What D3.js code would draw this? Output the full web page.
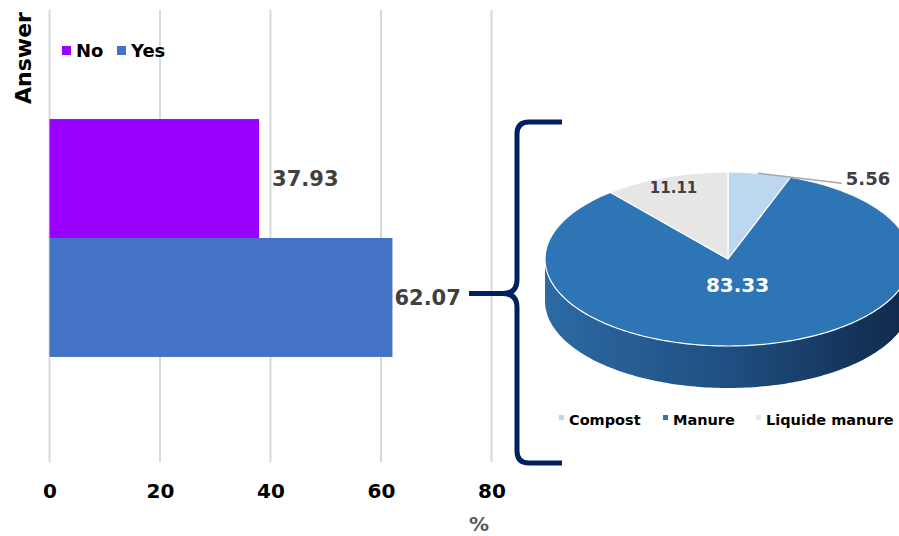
<!DOCTYPE html>
<meta charset="utf-8">
<title>Answer / fertiliser type</title>
<script src="https://d3js.org/d3.v7.min.js"></script>
<style>
  body { margin: 0; background: #fff; }
  text { font-family: "DejaVu Sans", Verdana, sans-serif; font-weight: bold; }
</style>
<body>
<div id="my_dataviz"></div>
<script>

// bar data
var answers = ["No", "Yes"];
var answerValues = [37.93, 62.07];
var answerColors = ["#9900ff", "#4472c4"];
var xTicks = [0, 20, 40, 60, 80];

// pie data (only the "Yes" answers)
var types = ["Compost", "Manure", "Liquide manure"];
var typeValues = [5.56, 83.33, 11.11];
var typeColors = ["#bdd7ee", "#2e75b6", "#e7e6e6"];

var W = 899, H = 536;

var svg = d3.select("#my_dataviz")
  .append("svg")
    .attr("width", W)
    .attr("height", H);

// defs: gradient for the side of the pie
var defs = svg.append("defs");
var grad = defs.append("linearGradient")
    .attr("id", "sideGrad")
    .attr("x1", "0%").attr("x2", "100%").attr("y1", "0%").attr("y2", "0%");
grad.append("stop").attr("offset", "0%").attr("stop-color", "#2d6aa4");
grad.append("stop").attr("offset", "50%").attr("stop-color", "#1f4f80");
grad.append("stop").attr("offset", "100%").attr("stop-color", "#10284a");

////////////////// bar chart

var plot = {left: 49.5, right: 491.5, top: 10, bottom: 462};

var x = d3.scaleLinear()
  .domain([0, 80])
  .range([plot.left, plot.right]);

// one category, two series -> 90% gap width
var groupH = (plot.bottom - plot.top) / 1.9;
var mid = (plot.top + plot.bottom) / 2 + 2;
var y = d3.scaleBand()
  .domain(answers)
  .range([mid - groupH / 2, mid + groupH / 2])
  .padding(0);

// grid lines
svg.append("g")
  .selectAll("line")
  .data(xTicks)
  .join("line")
    .attr("x1", d => x(d)).attr("x2", d => x(d))
    .attr("y1", plot.top).attr("y2", plot.bottom)
    .attr("stroke", "#d9d9d9")
    .attr("stroke-width", 2);

// x axis, drawn with d3.axisBottom then stripped to the labels
var xAxis = svg.append("g")
  .attr("transform", "translate(0," + (plot.bottom + 16) + ")")
  .call(d3.axisBottom(x).tickValues(xTicks).tickSize(0).tickPadding(6));
xAxis.select(".domain").remove();
xAxis.selectAll("text")
  .style("font-family", "DejaVu Sans, sans-serif")
  .style("font-weight", "bold")
  .style("font-size", "20px")
  .attr("fill", "#000");

svg.append("text")
  .attr("x", 479).attr("y", 531)
  .attr("text-anchor", "middle")
  .attr("fill", "#595959")
  .style("font-size", "20px")
  .text("%");

svg.append("text")
  .attr("transform", "translate(31,58) rotate(-90)")
  .attr("text-anchor", "middle")
  .attr("fill", "#000")
  .style("font-size", "22px")
  .text("Answer");

// bars
svg.append("g")
  .selectAll("rect")
  .data(answers)
  .join("rect")
    .attr("x", x(0))
    .attr("y", d => y(d))
    .attr("width", (d, i) => x(answerValues[i]) - x(0))
    .attr("height", y.bandwidth())
    .attr("fill", (d, i) => answerColors[i]);

var labelShift = [13, 2];
svg.append("g")
  .selectAll("text")
  .data(answers)
  .join("text")
    .attr("x", (d, i) => x(answerValues[i]) + labelShift[i])
    .attr("y", d => y(d) + y.bandwidth() / 2)
    .attr("dy", "0.36em")
    .attr("fill", "#404040")
    .style("font-size", "21px")
    .text((d, i) => answerValues[i].toFixed(2));

// legend
var leg = svg.append("g").attr("transform", "translate(62,46)");
var legX = [0, 55];
leg.selectAll("rect")
  .data(answers)
  .join("rect")
    .attr("x", (d, i) => legX[i]).attr("y", 0)
    .attr("width", 9).attr("height", 9)
    .attr("fill", (d, i) => answerColors[i]);
leg.selectAll("text")
  .data(answers)
  .join("text")
    .attr("x", (d, i) => legX[i] + 14).attr("y", 11)
    .attr("fill", "#000")
    .style("font-size", "18px")
    .text(d => d);

////////////////// brace from the "Yes" bar to the pie

var tipY = y("Yes") + y.bandwidth() / 2 - 4;
var bTop = 122, bBot = 463, bx = 517, tipX = 469, endX = 562;
svg.append("path")
  .attr("d",
    "M" + endX + "," + bTop +
    " L" + (bx + 12) + "," + bTop +
    " Q" + bx + "," + bTop + " " + bx + "," + (bTop + 12) +
    " L" + bx + "," + (tipY - 14) +
    " Q" + bx + "," + tipY + " " + (bx - 14) + "," + tipY +
    " L" + tipX + "," + tipY +
    " M" + (bx - 14) + "," + tipY +
    " Q" + bx + "," + tipY + " " + bx + "," + (tipY + 14) +
    " L" + bx + "," + (bBot - 12) +
    " Q" + bx + "," + bBot + " " + (bx + 12) + "," + bBot +
    " L" + endX + "," + bBot)
  .attr("fill", "none")
  .attr("stroke", "#002060")
  .attr("stroke-width", 5)
  .attr("stroke-linecap", "butt");

////////////////// 3D pie

var cx = 728, cy = 259, rx = 183, ry = 87, depth = 42;

var pie = d3.pie().sort(null).value(d => d.value);
var arcs = pie(types.map((t, i) => ({name: t, value: typeValues[i], color: typeColors[i]})));

function pt(a, dy) { return [cx + rx * Math.sin(a), cy - ry * Math.cos(a) + (dy || 0)]; }
function rim(a0, a1, dy) {
  var n = Math.max(2, Math.ceil((a1 - a0) / 0.02));
  return d3.range(n + 1).map(k => pt(a0 + (a1 - a0) * k / n, dy));
}
var line = d3.line();

// side walls: only the front half (pi/2 .. 3pi/2) shows
var side = svg.append("g");
arcs.forEach(function(a) {
  var a0 = Math.max(a.startAngle, Math.PI / 2), a1 = Math.min(a.endAngle, 3 * Math.PI / 2);
  if (a1 <= a0) return;
  var pts = rim(a0, a1, 0).concat(rim(a0, a1, depth).reverse());
  side.append("path")
    .attr("d", line(pts) + "Z")
    .attr("fill", "url(#sideGrad)");
});

// top face
svg.append("g")
  .selectAll("path")
  .data(arcs)
  .join("path")
    .attr("d", d => line([[cx, cy]].concat(rim(d.startAngle, d.endAngle, 0))) + "Z")
    .attr("fill", d => d.data.color)
    .attr("stroke", "#fff")
    .attr("stroke-width", 1.2)
    .attr("stroke-linejoin", "round");

// labels
var mAng = arcs.map(d => (d.startAngle + d.endAngle) / 2);
function inner(a, f) { return [cx + rx * f * Math.sin(a), cy - ry * f * Math.cos(a)]; }

var p83 = inner(mAng[1], 0.3);
svg.append("text")
  .attr("x", p83[0]).attr("y", p83[1])
  .attr("dy", "0.36em")
  .attr("text-anchor", "middle")
  .attr("fill", "#fff")
  .style("font-size", "20px")
  .text(typeValues[1].toFixed(2));

var p11 = inner(mAng[2], 0.87);
svg.append("text")
  .attr("x", p11[0]).attr("y", p11[1])
  .attr("dy", "0.36em")
  .attr("text-anchor", "middle")
  .attr("fill", "#404040")
  .style("font-size", "15px")
  .text(typeValues[2].toFixed(2));

// outside label for Compost, with leader line
var p5 = pt(mAng[0], 0);
svg.append("path")
  .attr("d", line([[p5[0] - 2, p5[1]], [p5[0] + 82, p5[1] + 10]]))
  .attr("stroke", "#a6a6a6")
  .attr("stroke-width", 1.5)
  .attr("fill", "none");
svg.append("text")
  .attr("x", p5[0] + 86).attr("y", p5[1] + 5)
  .attr("dy", "0.36em")
  .attr("fill", "#404040")
  .style("font-size", "18px")
  .text(typeValues[0].toFixed(2));

// pie legend
var legP = svg.append("g").attr("transform", "translate(559,420)");
var legPX = [0, 104, 197];
legP.selectAll("rect")
  .data(types)
  .join("rect")
    .attr("x", (d, i) => legPX[i]).attr("y", -5)
    .attr("width", 5).attr("height", 5)
    .attr("fill", (d, i) => typeColors[i]);
legP.selectAll("text")
  .data(types)
  .join("text")
    .attr("x", (d, i) => legPX[i] + 10).attr("y", 5)
    .attr("fill", "#000")
    .style("font-size", "14.5px")
    .text(d => d);

</script>
</body>
